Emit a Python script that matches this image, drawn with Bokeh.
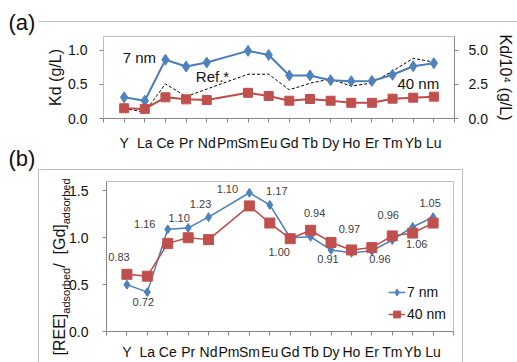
import math
from bokeh.plotting import figure
from bokeh.models import (Range1d, LinearAxis, FixedTicker, Label, ColumnDataSource,
                          Legend, LegendItem, PrintfTickFormatter)
from bokeh.layouts import column
from bokeh.embed import file_html
from bokeh.resources import INLINE
from bokeh.core.properties import value

# ---------------- data ----------------
elements = ["Y", "La", "Ce", "Pr", "Nd", "Pm", "Sm", "Eu", "Gd", "Tb", "Dy", "Ho", "Er", "Tm", "Yb", "Lu"]
nan = float("nan")
# panel (a): Kd (g/L) for nanoparticles, reference on right axis (Kd/10^4)
kd_7nm = [0.31, 0.26, 0.86, 0.76, 0.82, nan, 0.99, 0.93, 0.63, 0.63, 0.56, 0.545, 0.55, 0.64, 0.765, 0.81]
kd_40nm = [0.15, 0.14, 0.31, 0.28, 0.27, nan, 0.376, 0.33, 0.26, 0.285, 0.26, 0.23, 0.23, 0.29, 0.305, 0.32]
kd_ref = [0.73, 0.47, 2.53, 1.60, 2.15, nan, 3.24, 3.24, 2.10, 2.58, 2.89, 2.37, 2.60, 3.47, 4.40, 4.13]
# panel (b): [REE]adsorbed / [Gd]adsorbed
ratio_7nm = [0.50, 0.42, 1.09, 1.105, 1.22, nan, 1.48, 1.35, 1.00, 1.01, 0.87, 0.84, 0.86, 0.976, 1.115, 1.22]
ratio_40nm = [0.61, 0.59, 0.94, 1.00, 0.98, nan, 1.34, 1.157, 0.99, 1.08, 0.95, 0.87, 0.895, 1.02, 1.05, 1.157]
point_labels = ["0.83", "0.72", "1.16", "1.10", "1.23", "", "1.10", "1.17", "1.00", "0.94", "0.91",
                "0.97", "0.96", "0.96", "1.06", "1.05"]
# label offsets (pixels) relative to the 7 nm point
label_dx = [-8, -4, -23, -9, -8, 0, -22, 7, -11, 4, -3, -2, 8, -4, 4, -3]
label_dy = [-28, 10, -5, -10, -13, 0, -4, -14, 14, -24, 9, -24, 8, -25, 17, -14]

left_ticks_a = [0.0, 0.5, 1.0]
right_ticks_a = [0.0, 2.5, 5.0]
ticks_b = [0.0, 0.5, 1.0, 1.5]

FONT = "Liberation Sans"
BLUE_L, BLUE_M = "#4A7EBB", "#4F81BD"
RED_L, RED_M = "#BE4B48", "#C0504D"
AXIS_C = "#868686"
BOX_C = "#BFBFBF"
TXT = "#111111"
W_PAGE, H_PAGE = 517, 362


def pts(vals):
    xs = [i + 1 for i, v in enumerate(vals) if v == v]
    ys = [v for v in vals if v == v]
    return xs, ys


def style_common(p):
    p.frame_align = False
    p.xgrid.visible = False
    p.ygrid.visible = False
    p.outline_line_color = BOX_C
    p.outline_line_width = 1
    p.background_fill_alpha = 0
    p.border_fill_alpha = 0


def style_xaxis(ax):
    ax.ticker = FixedTicker(ticks=list(range(0, 18)))
    ax.major_label_overrides = {**{0: "", 17: ""}, **{i + 1: e for i, e in enumerate(elements)}}
    ax.axis_line_color = AXIS_C
    ax.major_tick_line_color = AXIS_C
    ax.major_tick_out = 4
    ax.major_tick_in = 0
    ax.minor_tick_line_color = None
    ax.major_label_text_font = FONT
    ax.major_label_text_font_size = "14px"
    ax.major_label_text_color = TXT


def style_yaxis(ax, ticks):
    ax.ticker = FixedTicker(ticks=ticks)
    ax.formatter = PrintfTickFormatter(format="%.1f")
    ax.axis_line_color = AXIS_C
    ax.major_tick_line_color = AXIS_C
    ax.major_tick_out = 4
    ax.major_tick_in = 0
    ax.minor_tick_line_color = None
    ax.major_label_text_font = FONT
    ax.major_label_text_font_size = "14px"
    ax.major_label_text_color = TXT
    ax.axis_label_text_font = FONT
    ax.axis_label_text_font_style = "normal"
    ax.axis_label_text_font_size = "16px"
    ax.axis_label_text_color = TXT


# ---------------- background decoration (pixel coordinates, y up) ----------------
deco = figure(width=W_PAGE, height=H_PAGE, min_border=0, x_range=Range1d(0, W_PAGE),
              y_range=Range1d(0, H_PAGE), x_axis_location=None, y_axis_location=None,
              output_backend="svg", toolbar_location=None)
deco.frame_align = False
deco.xgrid.visible = False
deco.ygrid.visible = False
deco.outline_line_color = None
deco.background_fill_color = "white"
deco.border_fill_color = "white"


def Y(py):
    return H_PAGE - py


# chart-area frames
deco.line([38, W_PAGE], [Y(21), Y(21)], line_color=BOX_C, line_width=1)
deco.line([38, 38, 462, 462], [Y(H_PAGE), Y(169), Y(169), Y(H_PAGE)], line_color=BOX_C, line_width=1)
deco.text(x=[8, 8], y=[Y(22), Y(158)], text=["(a)", "(b)"], text_font=value(FONT),
          text_font_size="22px", text_baseline="middle", text_align="left", text_color=TXT)

# rotated y-axis label of panel (b) with subscripts
W = {"[": 0.278, "]": 0.278, "R": 0.722, "E": 0.667, "G": 0.778, "d": 0.556, "a": 0.556,
     "s": 0.5, "o": 0.556, "r": 0.333, "b": 0.556, "e": 0.556, " ": 0.278, "/": 0.278}
parts = [("[REE]", 16, 0), ("adsorbed", 11, 6), (" / ", 16, 0), ("[Gd]", 16, 0), ("adsorbed", 11, 6)]
py = 355
for txt, fs, shift in parts:
    deco.text(x=[59 + shift], y=[Y(py)], text=[txt], angle=math.pi / 2,
              text_font=value(FONT), text_font_size=f"{fs}px",
              text_align="left", text_baseline="alphabetic", text_color=TXT)
    py -= sum(W[c] for c in txt) * fs

# ---------------- panel (a) ----------------
pa = figure(width=W_PAGE, height=153, min_border_left=103, min_border_right=63,
            min_border_top=36, min_border_bottom=32,
            x_range=Range1d(0, 17), y_range=Range1d(0, 1.2),
            output_backend="svg", toolbar_location=None)
style_common(pa)
pa.margin = (-H_PAGE, 0, 0, 0)
pa.extra_y_ranges = {"ref": Range1d(0, 6)}
style_xaxis(pa.xaxis[0])
pa.xaxis[0].major_label_standoff = 12
style_yaxis(pa.yaxis[0], left_ticks_a)
pa.yaxis[0].axis_line_color = None
pa.yaxis[0].major_label_standoff = 12
pa.yaxis[0].axis_label = "Kd (g/L)"
pa.yaxis[0].axis_label_standoff = 1

rax = LinearAxis(y_range_name="ref")
style_yaxis(rax, right_ticks_a)
rax.major_label_standoff = 10
rax.axis_label = "Kd/10\u2074 (g/L)"
rax.axis_label_standoff = 6
pa.add_layout(rax, "right")

xs, ys = pts(kd_ref)
pa.line(xs, ys, y_range_name="ref", line_color="black", line_width=1, line_dash="3 2")
xs, ys = pts(kd_7nm)
pa.line(xs, ys, line_color=BLUE_L, line_width=2)
pa.scatter(xs, ys, marker="diamond", size=11, fill_color=BLUE_M, line_color=BLUE_M)
xs, ys = pts(kd_40nm)
pa.line(xs, ys, line_color=RED_L, line_width=2)
pa.scatter(xs, ys, marker="square", size=9, fill_color=RED_M, line_color=RED_M)

for txt, x, y in [("7 nm", 1.74, 0.887), ("Ref.*", 5.28, 0.62), ("40 nm", 15.25, 0.507)]:
    pa.add_layout(Label(x=x, y=y, text=txt, text_font=FONT, text_font_size="15px",
                        text_align="center", text_baseline="middle", text_color=TXT))

# ---------------- panel (b) ----------------
pb = figure(width=W_PAGE, height=209, min_border_left=106, min_border_right=64,
            min_border_top=28, min_border_bottom=29,
            x_range=Range1d(0, 17), y_range=Range1d(0, 1.6),
            output_backend="svg", toolbar_location=None)
style_common(pb)
style_xaxis(pb.xaxis[0])
pb.xaxis[0].major_label_standoff = 8
style_yaxis(pb.yaxis[0], ticks_b)
pb.yaxis[0].major_label_standoff = 14

xs, ys = pts(ratio_7nm)
l7 = pb.line(xs, ys, line_color=BLUE_L, line_width=1.5)
s7 = pb.scatter(xs, ys, marker="diamond", size=9, fill_color=BLUE_M, line_color=BLUE_M)
xs4, ys4 = pts(ratio_40nm)
l40 = pb.line(xs4, ys4, line_color=RED_L, line_width=1.5)
s40 = pb.scatter(xs4, ys4, marker="square", size=10, fill_color=RED_M, line_color=RED_M)

keep = [i for i, v in enumerate(ratio_7nm) if v == v]
lab_src = ColumnDataSource(dict(
    x=[i + 1 for i in keep],
    y=[ratio_7nm[i] for i in keep],
    t=[point_labels[i] for i in keep],
    dx=[label_dx[i] for i in keep],
    dy=[label_dy[i] for i in keep],
))
pb.text(x="x", y="y", text="t", x_offset="dx", y_offset="dy", source=lab_src,
        text_font=value(FONT), text_font_size="11px", text_color="#404040",
        text_align="center", text_baseline="middle")

legend = Legend(items=[LegendItem(label="7 nm", renderers=[l7, s7]),
                       LegendItem(label="40 nm", renderers=[l40, s40])],
                location="bottom_right", margin=7, padding=0, spacing=2,
                border_line_color=None, background_fill_alpha=0,
                label_text_font=FONT, label_text_font_size="14px", label_text_color=TXT,
                glyph_width=17, glyph_height=20, label_height=20, label_standoff=2)
pb.add_layout(legend)

layout = column(deco, pa, pb, spacing=0)
open("out.html", "w").write(file_html(layout, INLINE))
